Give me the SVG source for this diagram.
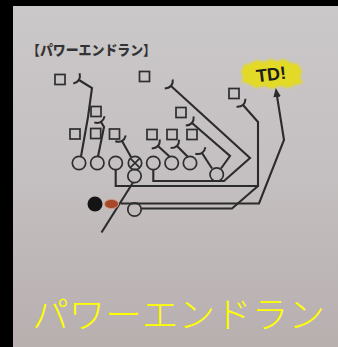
<svg xmlns="http://www.w3.org/2000/svg" width="338" height="347" viewBox="0 0 338 347">
<defs>
<linearGradient id="bg" x1="0" y1="0" x2="0" y2="1">
<stop offset="0" stop-color="#cbc8c9"/>
<stop offset="0.5" stop-color="#c4bfc0"/>
<stop offset="1" stop-color="#b8afaf"/>
</linearGradient>
<marker id="blk" markerUnits="userSpaceOnUse" viewBox="-4 -7 8 14" markerWidth="8" markerHeight="14" refX="0" refY="0" orient="auto" overflow="visible">
<path d="M3,-6 Q-3,0 3,6" fill="none" stroke="#2b2b2b" stroke-width="2"/>
</marker>
<marker id="arr" markerUnits="userSpaceOnUse" viewBox="0 -5 10 10" markerWidth="10" markerHeight="10" refX="1" refY="0" orient="auto">
<path d="M0,-3.8 L9,0 L0,3.8 Z" fill="#2b2b2b"/>
</marker>
<filter id="soft" x="-20%" y="-30%" width="140%" height="160%"><feGaussianBlur stdDeviation="0.9"/></filter>
<style>
.ln{fill:none;stroke:#2b2b2b;stroke-width:2.1;stroke-linejoin:miter}
.blk{marker-end:url(#blk)}
.sq{fill:none;stroke:#2e2e2e;stroke-width:1.7}
.pl{fill:none;stroke:#2e2e2e;stroke-width:1.7}
</style>
</defs>
<rect width="338" height="347" fill="#000"/>
<rect x="13" y="6" width="325" height="341" fill="url(#bg)"/>

<text x="27" y="55" font-family="'Noto Sans CJK JP', sans-serif" font-weight="900" font-size="13.5" fill="#333" textLength="129" lengthAdjust="spacingAndGlyphs">【パワーエンドラン】</text>

<g id="td">
<path d="M241,72 L244,65 L251,63 L257,60 L264,62 L270,59 L277,61 L284,59 L291,63 L298,64 L302,71 L300,77 L303,83 L295,85 L288,88 L280,86 L272,89 L264,86 L256,88 L249,84 L242,82 L243,77 Z" fill="#e2da28" filter="url(#soft)"/>
<text x="271" y="80.5" text-anchor="middle" font-family="'Liberation Sans', sans-serif" font-weight="bold" font-size="18" fill="#1c1c1c" transform="rotate(-7 271 74)">TD!</text>
</g>

<g id="connectors">
<path class="ln blk" d="M81,156.5 L88,117 L92,88 L79,80"/>
<path class="ln blk" d="M98,156.5 L104,127 L101,122"/>
<path class="ln blk" d="M131,157 L122,141"/>
<path class="ln blk" d="M115.7,169.5 L115.7,186 L258,186 L258,122 L243,105"/>
<path class="ln blk" d="M153.3,169.5 L153.3,181 L224,181 L250,158 L171,86"/>
<path class="ln blk" d="M170,157 L158,146"/>
<path class="ln blk" d="M188,157 L177,146"/>
<path class="ln blk" d="M212,168.5 L202,153"/>
<path class="ln blk" d="M221,168.5 L230,156 L192,123"/>
<path class="ln" d="M142,208.5 L232,208.5 L258,186"/>
<path class="ln" d="M121,203.5 L259,203.5 L284,140 L277,96" marker-end="url(#arr)"/>
<path class="ln" d="M133,182.5 L101.5,232.5"/>
</g>

<g id="defense">
<rect id="d1" class="sq" x="55" y="74.5" width="10" height="10"/>
<rect id="d2" class="sq" x="139.5" y="71.5" width="10" height="10"/>
<rect id="d3" class="sq" x="229" y="88.5" width="10" height="10"/>
<rect id="d4" class="sq" x="91" y="106.5" width="10" height="10"/>
<rect id="d5" class="sq" x="176" y="107.5" width="10" height="10"/>
<rect id="d6" class="sq" x="70" y="129" width="10" height="10"/>
<rect id="d7" class="sq" x="90.7" y="128.5" width="10" height="10"/>
<rect id="d8" class="sq" x="109.5" y="129" width="10" height="10"/>
<rect id="d9" class="sq" x="147" y="129.5" width="10" height="10"/>
<rect id="d10" class="sq" x="167" y="129.5" width="10" height="10"/>
<rect id="d11" class="sq" x="187" y="129.5" width="10" height="10"/>
</g>

<g id="offense">
<circle id="o1" class="pl" cx="79" cy="163" r="6.7"/>
<circle id="o2" class="pl" cx="97.3" cy="163" r="6.7"/>
<circle id="o3" class="pl" cx="115.7" cy="163" r="6.7"/>
<g id="center"><circle class="pl" cx="135" cy="163" r="6.7"/><path class="pl" d="M130.3,158.3 L139.7,167.7 M139.7,158.3 L130.3,167.7"/></g>
<circle id="o5" class="pl" cx="153.3" cy="163" r="6.7"/>
<circle id="o6" class="pl" cx="171.7" cy="163" r="6.7"/>
<circle id="o7" class="pl" cx="190" cy="163" r="6.7"/>
<circle id="te" class="pl" cx="216.7" cy="174.5" r="6.7"/>
<circle id="qb" class="pl" cx="134.5" cy="176" r="6.7"/>
<circle id="rb" class="pl" cx="134.5" cy="209.5" r="6.7"/>
<circle id="carrier" cx="95" cy="204" r="7.5" fill="#141414"/>
<ellipse id="ball" cx="111.5" cy="204" rx="7" ry="4.6" fill="#a6482a" stroke="#d49a84" stroke-width="1"/>
</g>

<text x="32" y="328" font-family="'Noto Sans CJK JP', sans-serif" font-weight="300" font-size="36" fill="#ffff00" textLength="293" lengthAdjust="spacingAndGlyphs">パワーエンドラン</text>
</svg>
